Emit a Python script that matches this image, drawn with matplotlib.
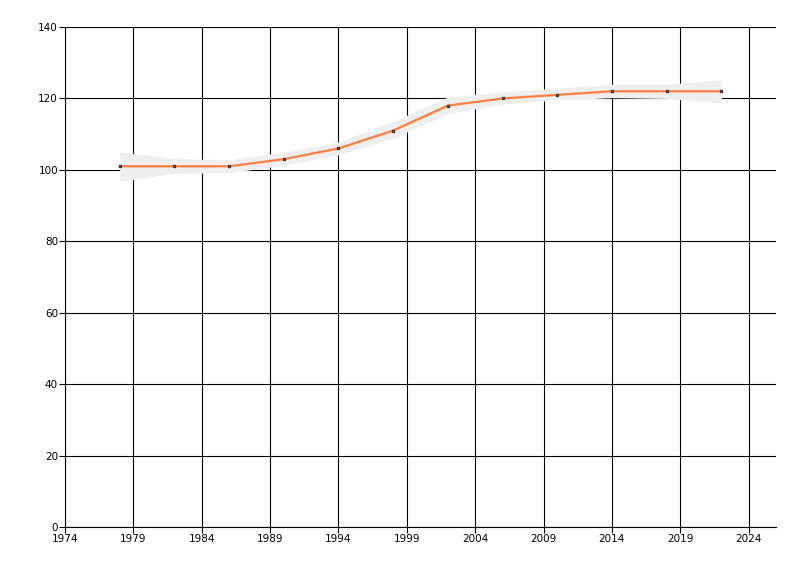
import numpy as np
import matplotlib.pyplot as plt

# dados
anos = [1978, 1982, 1986, 1990, 1994, 1998, 2002, 2006, 2010, 2014, 2018, 2022]
valores = [101, 101, 101, 103, 106, 111, 118, 120, 121, 122, 122, 122]
banda_inf = [96.8, 99, 99.2, 101.3, 104.2, 108.8, 115.8, 118.4, 119.6, 120.2, 120, 118.7]
banda_sup = [105, 103.2, 102.8, 105, 107.8, 113.6, 120.4, 121.9, 122.9, 124, 124, 125.2]

xticks = np.arange(1974, 2025, 5)
yticks = np.arange(0, 141, 20)

fig = plt.figure(figsize=(8, 5.76), dpi=100)
ax = fig.add_axes([65/800, 1 - 527/576, (776 - 65)/800, 500/576])

ax.fill_between(anos, banda_inf, banda_sup, color='#efefef', linewidth=0, zorder=2)
ax.plot(anos, valores, color='#ff7f3f', linewidth=1.6, zorder=3)
ax.plot(anos, valores, 's', color='#404040', markersize=1.6, linestyle='none', zorder=4)

ax.set_xlim(1974, 2026)
ax.set_ylim(0, 140)
ax.set_xticks(xticks)
ax.set_yticks(yticks)
ax.grid(True, color='black', linewidth=0.8, zorder=1)
ax.set_axisbelow(True)

for s in ['top', 'right']:
    ax.spines[s].set_visible(False)
for s in ['left', 'bottom']:
    ax.spines[s].set_linewidth(0.8)

ax.tick_params(axis='both', labelsize=7.5, length=4, width=0.8, pad=1)

fig.savefig('out.png', dpi=100)
